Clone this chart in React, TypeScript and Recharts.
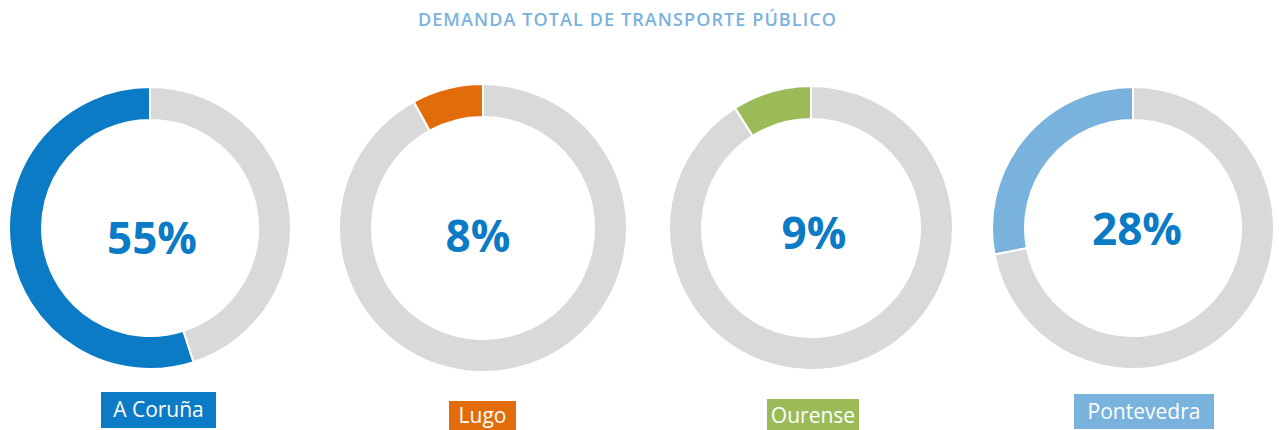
import React from "react";
import { PieChart, Pie, Cell, Label } from "recharts";

// Data
const provinces = ["A Coruña", "Lugo", "Ourense", "Pontevedra"];
const shares = [55, 8, 9, 28];
const colors = ["#0a7bc4", "#e36c0a", "#9bbb59", "#7ab2de"];
const REST_COLOR = "#d9d9d9";
const TITLE = "DEMANDA TOTAL DE TRANSPORTE PÚBLICO";

// Layout per donut (page pixels)
const layout = [
  { cx: 150, cy: 228, outer: 141, inner: 108, textDx: 2, textDy: 9, box: { x: 101, y: 392, w: 115, h: 36 } },
  { cx: 483, cy: 228, outer: 144, inner: 111, textDx: -5, textDy: 7, box: { x: 449, y: 401, w: 67, h: 34 } },
  { cx: 811, cy: 228, outer: 142, inner: 109, textDx: 3, textDy: 4, box: { x: 767, y: 399, w: 92, h: 31 } },
  { cx: 1133, cy: 228, outer: 141, inner: 108, textDx: 4, textDy: 0, box: { x: 1074, y: 394, w: 140, h: 35 } },
];

const FONT = "'Open Sans', 'Noto Sans', sans-serif";

const W = 1279;
const H = 430;

export default function App() {
  return (
    <div style={{ position: "absolute", left: 0, top: 0, width: W, height: H, background: "#fff" }}>
      <div
        style={{
          position: "absolute",
          left: -12,
          top: 7,
          width: W,
          textAlign: "center",
          fontFamily: FONT,
          fontSize: 18,
          fontWeight: 600,
          color: "#7ab2de",
          letterSpacing: 1.1,
        }}
      >
        {TITLE}
      </div>
      <PieChart width={W} height={H} margin={{ top: 0, right: 0, bottom: 0, left: 0 }}>
        {provinces.map((name, i) => {
          const l = layout[i];
          const data = [
            { name, value: shares[i] },
            { name: "Resto", value: 100 - shares[i] },
          ];
          return (
            <Pie
              key={name}
              data={data}
              dataKey="value"
              cx={l.cx}
              cy={l.cy}
              innerRadius={l.inner}
              outerRadius={l.outer}
              startAngle={90}
              endAngle={450}
              stroke="#ffffff"
              strokeWidth={2}
              isAnimationActive={false}
            >
              <Cell fill={colors[i]} />
              <Cell fill={REST_COLOR} />
              <Label
                position="center"
                content={() => (
                  <g>
                    <text
                      x={l.cx + l.textDx}
                      y={l.cy + l.textDy}
                      textAnchor="middle"
                      dominantBaseline="central"
                      fontFamily={FONT}
                      fontWeight={700}
                      fontSize={44}
                      fill="#0a7bc4"
                    >
                      {`${shares[i]}%`}
                    </text>
                    <rect x={l.box.x} y={l.box.y} width={l.box.w} height={l.box.h} fill={colors[i]} />
                    <text
                      x={l.box.x + l.box.w / 2}
                      y={Math.min(l.box.y + 25, 423)}
                      textAnchor="middle"
                      fontFamily={FONT}
                      fontSize={21}
                      fill="#ffffff"
                    >
                      {name}
                    </text>
                  </g>
                )}
              />
            </Pie>
          );
        })}
      </PieChart>
    </div>
  );
}
